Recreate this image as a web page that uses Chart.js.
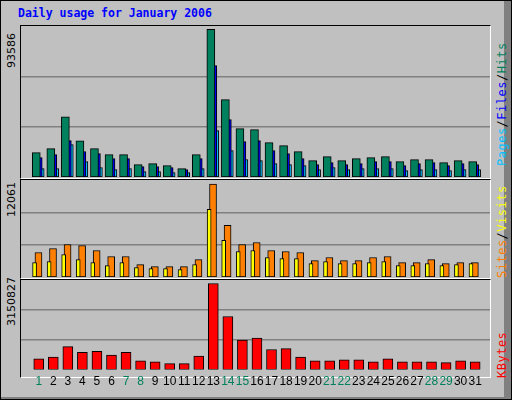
<!DOCTYPE html>
<html><head><meta charset="utf-8">
<script src="https://cdn.jsdelivr.net/npm/chart.js@4"></script>
<style>
body{margin:0;width:512px;height:400px;background:#c0c0c0;position:relative;overflow:hidden;font-family:"DejaVu Sans Mono",monospace}
#frame{position:absolute;left:0;top:0;width:510px;height:398px;border:1px solid #000;box-shadow:inset -7px -2px 0 #808080}
.title{position:absolute;left:18px;top:6px;font-weight:bold;font-size:11.5px;color:#0000ff}
.panel{position:absolute;left:20px;width:469px;border-top:1px solid #000;border-left:1px solid #000;border-bottom:1px solid #fff;border-right:1px solid #fff}
canvas{position:absolute}
.rot{position:absolute;transform-origin:0 0;transform:rotate(-90deg);white-space:nowrap;font-size:12px;letter-spacing:0.5px}
.maxl{font-family:"DejaVu Sans",sans-serif;font-size:11px;color:#000;letter-spacing:0}
</style></head><body>
<div id="frame"></div>
<div class="title">Daily usage for January 2006</div>
<div class="panel" style="top:25px;height:152px"></div>
<div class="panel" style="top:179px;height:98px"></div>
<div class="panel" style="top:279px;height:97px"></div>
<div class="rot maxl" style="left:5px;top:68px">93586</div>
<div class="rot maxl" style="left:5px;top:217px">12061</div>
<div class="rot maxl" style="left:5px;top:326px">3150827</div>
<div class="rot" style="left:495px;top:166px"><span style="color:#00c0ff">Pages</span><span style="color:#000">/</span><span style="color:#0000ff">Files</span><span style="color:#000">/</span><span style="color:#00805c">Hits</span></div>
<div class="rot" style="left:495px;top:278px"><span style="color:#ff8000">Sites</span><span style="color:#000">/</span><span style="color:#ffff00">Visits</span></div>
<div class="rot" style="left:495px;top:378px"><span style="color:#ff0000">KBytes</span></div>
<canvas id="c1" style="left:21px;top:26px;width:469px;height:151px"></canvas>
<canvas id="c2" style="left:21px;top:180px;width:469px;height:97px"></canvas>
<canvas id="c3" style="left:21px;top:280px;width:469px;height:114px"></canvas>
<script>
const days=[1,2,3,4,5,6,7,8,9,10,11,12,13,14,15,16,17,18,19,20,21,22,23,24,25,26,27,28,29,30,31];
const weekend=[1,7,8,14,15,21,22,28,29];
const hits=[15440,17980,38110,22870,17980,14170,14170,7810,8450,7180,5270,14170,93586,49110,30680,30050,21790,19880,16070,10350,12900,10350,11630,12260,12900,9720,10990,10990,9080,10350,9720];
const files=[12260,14170,23060,16070,14800,11630,11630,6540,6540,5910,4640,11630,70700,36400,22420,23060,16710,14800,11630,7810,9080,7810,8450,9720,9720,7180,8450,9080,7180,8450,7810];
const pages=[5270,5270,20520,9720,5910,4640,5270,3370,3370,2730,2730,5270,29410,16710,10990,10350,8450,7810,7180,4640,5910,4640,5270,5270,5270,4000,4640,4640,4000,4640,4640];
const sites=[3180,3700,4220,4090,3440,2660,2660,1610,1350,1350,1350,2260,12061,6710,4220,4480,3440,3310,3180,2130,2530,2130,2130,2530,2660,1870,1870,2260,1740,1870,1870];
const visits=[1870,2000,2920,2260,1870,1480,1870,1220,1090,1090,960,1610,8800,4750,3310,3440,2530,2390,2390,1740,2000,1740,1740,1870,2000,1480,1480,1740,1480,1610,1740];
const kbytes=[391000,460000,839000,632000,667000,529000,632000,322000,287000,218000,218000,494000,3150827,1943000,1081000,1150000,736000,770000,460000,322000,322000,356000,356000,287000,391000,287000,287000,287000,253000,322000,287000];

const SPAN=31.2;
const pts=a=>a.map((v,i)=>({x:days[i],y:v}));
function ds(data,color,thick,axis){return {data:pts(data),backgroundColor:color,borderColor:'#000',borderWidth:1,borderSkipped:false,barThickness:thick,grouped:false,xAxisID:axis};}
function xax(min,show){
  return {type:'linear',min:min,max:min+SPAN,display:show,
    grid:{display:false,drawTicks:false},border:{display:false},
    ticks:{stepSize:1,autoSkip:false,maxRotation:0,padding:5,
      font:{family:'Liberation Sans',size:12},
      color:c=>weekend.includes(c.tick&&c.tick.value)?'#00805c':'#000'},
    afterBuildTicks:ax=>{ax.ticks=days.map(d=>({value:d}));}};
}
function opts(max,step,axes){
  const scales={y:{min:0,max:max,display:true,
        ticks:{display:false,stepSize:step},border:{display:false},
        grid:{color:'#808080',lineWidth:c=>(c.tick.value>0&&c.tick.value<max-1)?1.5:0,drawTicks:false}}};
  Object.assign(scales,axes);
  return {responsive:false,animation:false,devicePixelRatio:1,layout:{padding:0},
    plugins:{legend:{display:false},tooltip:{enabled:false}},scales};
}
function mk(id,w,h,datasets,o){const c=document.getElementById(id);c.width=w;c.height=h;
  return new Chart(c,{type:'bar',data:{datasets},options:o});}
mk('c1',469,151,[ds(hits,'#00805c',8,'xh'),ds(files,'#0000ff',8,'xf'),ds(pages,'#00c0ff',8,'xp')],
  opts(95760,31920,{xh:xax(0.47,false),xf:xax(0.335,false),xp:xax(0.2,false)}));
mk('c2',469,97,[ds(visits,'#ffff00',4,'xv'),ds(sites,'#ff8000',7,'xs')],
  opts(12597,4199,{xv:xax(0.587,false),xs:xax(0.32,false)}));
mk('c3',469,114,[ds(kbytes,'#ff0000',10,'x')],
  opts(3278000,1092700,{x:xax(0.3,true)}));
</script>
</body></html>
